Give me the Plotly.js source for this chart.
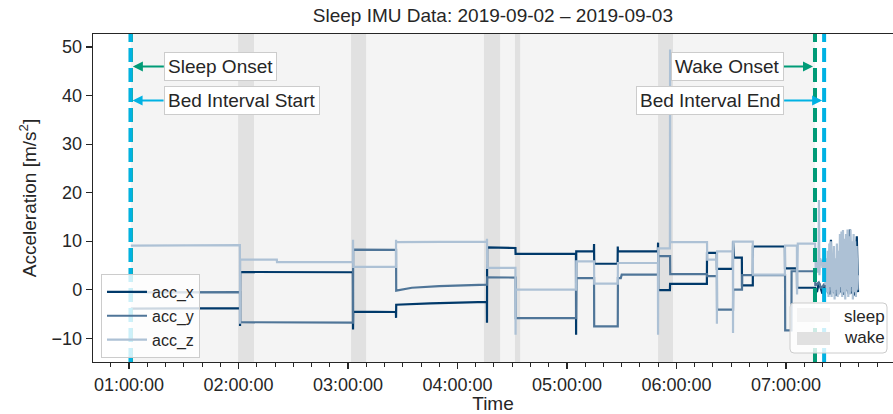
<!DOCTYPE html>
<html>
<head>
<meta charset="utf-8">
<script src="https://cdn.plot.ly/plotly-3.0.1.min.js"></script>
<style>html,body{margin:0;padding:0;background:#fff;}#chart{width:893px;height:414px;}</style>
</head>
<body>
<div id="chart"></div>
<script>
var DAY = '2019-09-03 ';

// ---- acceleration series (time, value) ----
var accXTime = ["01:01:00","02:00:50","02:00:50","02:00:55","03:02:40","03:02:45","03:02:50","03:26:15","03:26:20","03:26:25","03:45:00","04:05:00","04:16:05","04:16:10","04:16:15","04:31:45","04:31:50","05:04:55","05:05:00","05:05:05","05:14:45","05:14:50","05:14:55","05:27:45","05:27:50","05:27:55","05:49:50","05:49:55","05:50:00","05:56:25","05:56:30","06:16:40","06:16:45","06:22:05","06:22:10","06:30:55","06:31:00","06:31:30","06:35:50","06:35:55","06:41:50","06:41:55","06:59:25","06:59:30","07:06:00","07:06:05","07:16:00","07:17:00","07:18:00","07:19:00","07:20:00","07:21:00","07:22:00","07:23:00","07:24:00","07:24:40","07:25:10","07:26:00","07:27:30","07:28:30","07:29:30","07:30:30","07:31:30","07:32:30","07:34:20","07:35:00","07:35:30","07:36:30","07:37:30","07:38:50","07:39:10","07:39:30"];
var accXVal  = [-3.9,-3.8,-7.5,3.65,3.6,-8.2,-4.5,-4.6,-5.8,-3.1,-2.8,-2.6,-2.5,-6.8,8.7,8.6,7.4,7.4,-9.3,7.9,7.9,9.4,5.35,5.35,8.9,7.9,7.9,9.7,-0.1,-0.1,1.2,1.2,7.6,7.6,4.3,4.3,10.0,6.6,6.6,0.9,0.9,8.9,8.9,4.4,4.4,0.4,0.4,-0.5,1.5,0.2,-0.8,1.0,-0.3,0.8,-1.0,10.3,-0.5,1.2,-1.2,2.0,-0.5,0.8,-1.0,1.5,-0.8,12.4,-0.8,1.0,-1.2,11.0,0.5,-0.5];

var accYTime = ["01:01:00","02:00:50","02:00:55","03:02:45","03:02:50","03:26:20","03:26:25","03:35:00","03:50:00","04:05:00","04:16:10","04:16:15","04:31:50","04:31:55","05:05:00","05:05:05","05:14:50","05:14:55","05:27:50","05:27:55","05:29:30","05:30:00","05:49:55","05:50:00","05:56:30","05:56:35","06:16:45","06:16:50","06:22:10","06:22:15","06:31:00","06:31:05","06:35:55","06:36:00","06:59:30","06:59:35","07:03:00","07:03:05","07:16:00","07:16:05","07:18:00","07:19:30","07:21:00","07:23:00","07:25:00","07:27:00","07:29:00","07:31:00","07:33:00","07:35:00","07:37:00","07:39:30"];
var accYVal  = [-0.55,-0.5,-6.7,-6.8,8.25,8.2,-0.2,0.4,0.75,0.95,1.05,2.55,2.5,-5.85,-5.85,2.4,2.4,-7.55,-7.55,2.4,2.4,3.1,3.1,6.9,6.9,3.2,3.2,2.8,2.8,-4.1,-4.1,0.0,0.0,3.0,3.0,-8.4,-8.4,3.8,3.8,0.8,1.5,0.2,1.2,-0.5,0.5,-1.0,0.8,-0.8,1.0,-0.5,0.6,-0.2];

var accZTime = ["01:01:00","02:00:45","02:00:50","02:00:55","02:21:00","02:21:05","03:02:40","03:02:45","03:02:50","03:26:15","03:26:20","03:26:25","04:16:05","04:16:10","04:16:15","04:31:45","04:31:50","04:31:55","05:05:00","05:05:05","05:14:50","05:14:55","05:27:50","05:27:55","05:49:50","05:49:55","05:50:00","05:56:25","05:56:30","05:56:35","06:16:45","06:16:50","06:22:05","06:22:10","06:22:15","06:30:55","06:31:00","06:31:05","06:41:50","06:41:55","06:59:25","06:59:30","07:06:00","07:06:05","07:06:30",
  "07:16:00","07:16:20","07:16:50","07:17:20","07:17:50","07:18:05","07:18:20","07:18:45","07:19:10","07:19:35","07:20:00","07:20:25","07:20:50","07:21:15","07:21:40","07:22:05","07:22:30","07:22:55","07:23:20","07:23:45","07:24:10","07:24:35","07:25:00","07:25:25","07:25:50","07:26:15","07:26:40","07:27:05","07:27:30","07:27:55","07:28:20","07:28:45","07:29:10","07:29:35","07:30:00","07:30:25","07:30:50","07:31:15","07:31:40","07:32:05","07:32:30","07:32:55","07:33:20","07:33:45","07:34:10","07:34:35","07:35:00","07:35:25","07:35:50","07:36:15","07:36:40","07:37:05","07:37:30","07:37:55","07:38:20","07:38:45","07:39:10","07:39:30"];
var accZVal  = [9.1,9.2,-7.0,6.2,6.2,5.7,5.7,10.3,4.7,4.7,10.3,9.8,9.9,10.5,4.5,4.5,-9.3,0.0,0.0,5.85,5.85,1.25,1.25,5.5,5.5,-9.3,8.5,8.5,49.5,9.8,9.8,6.2,6.2,-7.0,7.9,7.9,-8.9,9.9,9.9,3.1,3.1,9.1,9.1,-1.0,9.5,
  9.5,4.0,6.0,3.5,5.5,18.5,3.0,6.5,5.0,6.2,4.5,6.0,3.5,7.0,1.0,6.5,-0.5,8.0,-1.5,9.5,0.5,10.0,-1.5,7.5,-0.5,9.0,-2.0,6.5,0.0,9.5,-1.5,8.0,-1.0,11.5,0.5,12.0,-1.5,12.3,-0.5,10.5,-2.0,11.5,0.0,12.4,-1.5,11.0,-1.0,12.4,0.5,10.0,-2.0,11.5,-0.5,10.0,-1.5,9.0,0.0,3.0];

var seriesNames = ['acc_x','acc_y','acc_z'];

// ---- sleep / wake phases and events ----
var phaseNames = ['sleep','wake'];
var sleepStart = ["01:01:00"];
var sleepEnd   = ["07:15:55"];
var wakeStart  = ["01:59:45","03:01:40","04:14:30","04:31:30","05:49:55"];
var wakeEnd    = ["02:08:30","03:09:55","04:23:20","04:34:20","05:58:05"];
var bedStart   = "01:00:50";
var sleepOnset = "01:01:00";
var wakeOnset  = "07:15:55";
var bedEnd     = "07:20:55";
var eventLabels = ['Sleep Onset','Bed Interval Start','Wake Onset','Bed Interval End'];
var eventY = [46, 39, 46, 39];

var COL_X = '#00396a', COL_Y = '#4f7598', COL_Z = '#adc1d5';
var GREEN = '#009b77', CYAN = '#00b2e3';
var SLEEP_FILL = '#f4f4f4', WAKE_FILL = '#e1e1e1';

function T(a){ return a.map(function(s){ return DAY + s; }); }

var traces = [
  {x:T(accXTime), y:accXVal, name:seriesNames[0], type:'scatter', mode:'lines', line:{color:COL_X, width:2.2}},
  {x:T(accYTime), y:accYVal, name:seriesNames[1], type:'scatter', mode:'lines', line:{color:COL_Y, width:2.2}},
  {x:T(accZTime), y:accZVal, name:seriesNames[2], type:'scatter', mode:'lines', line:{color:COL_Z, width:2.2}}
];

var shapes = [];
sleepStart.forEach(function(s,i){
  shapes.push({type:'rect', xref:'x', yref:'paper', x0:DAY+s, x1:DAY+sleepEnd[i], y0:0, y1:1,
    fillcolor:SLEEP_FILL, line:{width:0}, layer:'below'});
});
wakeStart.forEach(function(s,i){
  shapes.push({type:'rect', xref:'x', yref:'paper', x0:DAY+s, x1:DAY+wakeEnd[i], y0:0, y1:1,
    fillcolor:WAKE_FILL, line:{width:0}, layer:'below'});
});
function vline(t,c){ return {type:'line', xref:'x', yref:'paper', x0:DAY+t, x1:DAY+t, y0:0, y1:1, line:{color:c, width:4, dash:'14px,6px'}, layer:'above'}; }
shapes.push(vline(sleepOnset, GREEN));
shapes.push(vline(bedStart, CYAN));
shapes.push(vline(wakeOnset, GREEN));
shapes.push(vline(bedEnd, CYAN));

// second legend box (sleep / wake patches), in paper coordinates
function roundRect(x0,y0,x1,y1){
  var rx = 4/800, ry = 4/328;
  return 'M'+(x0+rx)+','+y0+' L'+(x1-rx)+','+y0+' Q'+x1+','+y0+' '+x1+','+(y0+ry)+
         ' L'+x1+','+(y1-ry)+' Q'+x1+','+y1+' '+(x1-rx)+','+y1+
         ' L'+(x0+rx)+','+y1+' Q'+x0+','+y1+' '+x0+','+(y1-ry)+
         ' L'+x0+','+(y0+ry)+' Q'+x0+','+y0+' '+(x0+rx)+','+y0+' Z';
}
shapes.push({type:'path', xref:'paper', yref:'paper', path:roundRect(0.87125,0.0274,0.9925,0.1799),
  fillcolor:'rgba(255,255,255,0.8)', line:{color:'#cccccc', width:1}, layer:'above'});
shapes.push({type:'rect', xref:'paper', yref:'paper', x0:0.88, x1:0.92125, y0:0.122, y1:0.1646, fillcolor:SLEEP_FILL, line:{width:0}, layer:'above'});
shapes.push({type:'rect', xref:'paper', yref:'paper', x0:0.88, x1:0.92125, y0:0.0518, y1:0.0915, fillcolor:WAKE_FILL, line:{width:0}, layer:'above'});

function ann(t, y, txt, col, ax, anchor){
  return {x:DAY+t, y:y, xref:'x', yref:'y', text:txt, showarrow:true, ax:ax, ay:0, axref:'pixel', ayref:'pixel',
    xanchor:anchor, yanchor:'middle', arrowhead:2, arrowsize:1, arrowwidth:2, arrowcolor:col, standoff:2,
    bgcolor:'#ffffff', bordercolor:'#cccccc', borderwidth:1, borderpad:3, font:{size:19, color:'#262626'}};
}
var annotations = [
  ann(sleepOnset, eventY[0], eventLabels[0], GREEN, 33, 'left'),
  ann(bedStart,   eventY[1], eventLabels[1], CYAN, 33, 'left'),
  ann(wakeOnset,  eventY[2], eventLabels[2], GREEN, -31, 'right'),
  ann(bedEnd,     eventY[3], eventLabels[3], CYAN, -40, 'right'),
  {xref:'paper', yref:'paper', x:0.936, y:0.1402, text:phaseNames[0], showarrow:false, xanchor:'left', yanchor:'middle', font:{size:17, color:'#262626'}},
  {xref:'paper', yref:'paper', x:0.936, y:0.0732, text:phaseNames[1], showarrow:false, xanchor:'left', yanchor:'middle', font:{size:17, color:'#262626'}}
];

var axisCommon = {showline:true, linecolor:'#262626', linewidth:1.25, mirror:true, showgrid:false, zeroline:false,
  ticks:'outside', ticklen:6, tickwidth:1.25, tickcolor:'#262626', tickfont:{size:18, color:'#262626'}};

var layout = {
  width:893, height:414,
  margin:{l:93, r:0, t:34, b:52},
  paper_bgcolor:'#ffffff', plot_bgcolor:'#ffffff',
  font:{family:'"Liberation Sans", Arial, sans-serif', color:'#262626'},
  title:{text:'Sleep IMU Data: 2019-09-02 – 2019-09-03', font:{size:19, color:'#262626'}, x:0.552, xanchor:'center', y:0.962, yanchor:'middle'},
  xaxis:Object.assign({}, axisCommon, {
    type:'date', range:[DAY+'00:40:15', DAY+'07:58:40'], tickformat:'%H:%M:%S', dtick:3600000, tick0:DAY+'00:00:00',
    minor:{dtick:600000, ticks:'outside', ticklen:4, tickwidth:1, tickcolor:'#262626', showgrid:false},
    title:{text:'Time', font:{size:19, color:'#262626'}, standoff:2}
  }),
  yaxis:Object.assign({}, axisCommon, {
    range:[-14.9, 52.7], dtick:10, tick0:0,
    title:{text:'Acceleration [m/s<sup>2</sup>]', font:{size:19, color:'#262626'}, standoff:10}
  }),
  showlegend:true,
  legend:{x:0.01, y:0.012, xanchor:'left', yanchor:'bottom', bgcolor:'rgba(255,255,255,0.8)', bordercolor:'#cccccc', borderwidth:1, font:{size:16, color:'#262626'}, itemwidth:40},
  shapes:shapes,
  annotations:annotations
};

Plotly.newPlot('chart', traces, layout, {displayModeBar:false, staticPlot:true});
</script>
</body>
</html>
